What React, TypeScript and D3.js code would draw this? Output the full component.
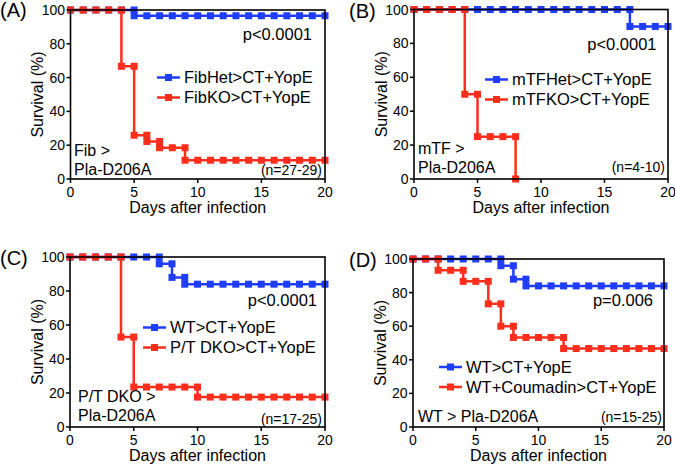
import React from "react";
import * as d3 from "d3";

// ---------- data ----------
const days = [0, 1, 2, 3, 4, 5, 6, 7, 8, 9, 10, 11, 12, 13, 14, 15, 16, 17, 18, 19, 20];
const xTicks = [0, 5, 10, 15, 20];
const yTicks = [0, 20, 40, 60, 80, 100];

// survival (%) at each day (index = day)
const fibHet = [100, 100, 100, 100, 100, 96.6, 96.6, 96.6, 96.6, 96.6, 96.6, 96.6, 96.6, 96.6, 96.6, 96.6, 96.6, 96.6, 96.6, 96.6, 96.6];
const fibKO = [100, 100, 100, 100, 66.7, 25.9, 22.2, 18.5, 18.5, 11.1, 11.1, 11.1, 11.1, 11.1, 11.1, 11.1, 11.1, 11.1, 11.1, 11.1, 11.1];
const mtfHet = [100, 100, 100, 100, 100, 100, 100, 100, 100, 100, 100, 100, 100, 100, 100, 100, 100, 90, 90, 90, 90];
const mtfKO = [100, 100, 100, 100, 50, 25, 25, 25, 0];
const wtC = [100, 100, 100, 100, 100, 100, 100, 96, 88, 84, 84, 84, 84, 84, 84, 84, 84, 84, 84, 84, 84];
const ptDKO = [100, 100, 100, 100, 52.9, 23.5, 23.5, 23.5, 23.5, 23.5, 17.6, 17.6, 17.6, 17.6, 17.6, 17.6, 17.6, 17.6, 17.6, 17.6, 17.6];
const wtD = [100, 100, 100, 100, 100, 100, 100, 96, 88, 84, 84, 84, 84, 84, 84, 84, 84, 84, 84, 84, 84];
const coumadin = [100, 100, 93.3, 93.3, 86.7, 86.7, 73.3, 60, 53.3, 53.3, 53.3, 53.3, 46.7, 46.7, 46.7, 46.7, 46.7, 46.7, 46.7, 46.7, 46.7];

const BLUE = "#1f3dff";
const RED = "#ff2e1c";
const FONT = "'Liberation Sans', Arial, Helvetica, sans-serif";

type Series = { name: string; values: number[]; color: string };
type PanelCfg = {
  tag: string;
  tagX: number;
  tagY: number;
  left: number;
  right: number;
  top: number;
  bottom: number;
  series: Series[];
  legX: number;
  legY: number;
  pText: string;
  pY: number;
  pRight: number;
  nText: string;
  nRight: number;
  nY: number;
  note: string[];
  noteX: number;
  noteY: number;
};

const panels: PanelCfg[] = [
  {
    tag: "(A)", tagX: 0, tagY: 17,
    left: 70.5, right: 325, top: 10, bottom: 179,
    series: [
      { name: "FibHet>CT+YopE", values: fibHet, color: BLUE },
      { name: "FibKO>CT+YopE", values: fibKO, color: RED },
    ],
    legX: 157, legY: 77.5,
    pText: "p<0.0001", pRight: 312, pY: 40,
    nText: "(n=27-29)", nRight: 322, nY: 174.5,
    note: ["Fib >", "Pla-D206A"], noteX: 74, noteY: 156,
  },
  {
    tag: "(B)", tagX: 349, tagY: 18,
    left: 414, right: 668, top: 9.5, bottom: 179,
    series: [
      { name: "mTFHet>CT+YopE", values: mtfHet, color: BLUE },
      { name: "mTFKO>CT+YopE", values: mtfKO, color: RED },
    ],
    legX: 485, legY: 79.5,
    pText: "p<0.0001", pRight: 656.5, pY: 49.5,
    nText: "(n=4-10)", nRight: 665, nY: 172,
    note: ["mTF >", "Pla-D206A"], noteX: 418, noteY: 154,
  },
  {
    tag: "(C)", tagX: 0, tagY: 265,
    left: 70, right: 325, top: 257, bottom: 427,
    series: [
      { name: "WT>CT+YopE", values: wtC, color: BLUE },
      { name: "P/T DKO>CT+YopE", values: ptDKO, color: RED },
    ],
    legX: 143, legY: 327.5,
    pText: "p<0.0001", pRight: 317, pY: 306,
    nText: "(n=17-25)", nRight: 322, nY: 423.5,
    note: ["P/T DKO >", "Pla-D206A"], noteX: 78, noteY: 401.5,
  },
  {
    tag: "(D)", tagX: 349, tagY: 267,
    left: 413, right: 664, top: 259, bottom: 427,
    series: [
      { name: "WT>CT+YopE", values: wtD, color: BLUE },
      { name: "WT+Coumadin>CT+YopE", values: coumadin, color: RED },
    ],
    legX: 439, legY: 367,
    pText: "p=0.006", pRight: 653, pY: 306,
    nText: "(n=15-25)", nRight: 662, nY: 421.5,
    note: ["WT > Pla-D206A"], noteX: 418, noteY: 422,
  },
];

function Panel({ cfg }: { cfg: PanelCfg }) {
  const x = d3.scaleLinear().domain([0, 20]).range([cfg.left, cfg.right]);
  const y = d3.scaleLinear().domain([0, 100]).range([cfg.bottom, cfg.top]);
  const line = d3
    .line<number>()
    .x((_, i) => x(days[i]))
    .y((d) => y(d))
    .curve(d3.curveStepAfter);
  const ms = 7;
  const legendGap = 20;

  const markers = (s: Series) => {
    const pts: [number, number][] = [];
    s.values.forEach((v, i) => {
      if (i > 0 && s.values[i - 1] !== v) pts.push([days[i], s.values[i - 1]]);
      pts.push([days[i], v]);
    });
    return pts;
  };

  return (
    <g>
      <text x={cfg.tagX} y={cfg.tagY} fontSize={20} fontFamily={FONT}>
        {cfg.tag}
      </text>
      {cfg.series.map((s) => (
        <g key={s.name}>
          <path d={line(s.values) || ""} fill="none" stroke={s.color} strokeWidth={2.5} />
          {markers(s).map(([d, v], k) => (
            <rect
              key={k}
              x={x(d) - ms / 2}
              y={y(v) - ms / 2}
              width={ms}
              height={ms}
              fill={s.color}
            />
          ))}
        </g>
      ))}
      <rect
        x={cfg.left}
        y={cfg.top}
        width={cfg.right - cfg.left}
        height={cfg.bottom - cfg.top}
        fill="none"
        stroke="#000"
        strokeWidth={1.6}
      />
      {yTicks.map((t) => (
        <g key={"y" + t}>
          <line x1={cfg.left - 4} x2={cfg.left} y1={y(t)} y2={y(t)} stroke="#000" strokeWidth={1.5} />
          <text
            x={cfg.left - 5.5}
            y={y(t) + 5}
            textAnchor="end"
            fontSize={14}
            fontFamily={FONT}
          >
            {t}
          </text>
        </g>
      ))}
      {xTicks.map((t) => (
        <g key={"x" + t}>
          <line x1={x(t)} x2={x(t)} y1={cfg.bottom} y2={cfg.bottom + 4} stroke="#000" strokeWidth={1.5} />
          <text x={x(t)} y={cfg.bottom + 17.5} textAnchor="middle" fontSize={14} fontFamily={FONT}>
            {t}
          </text>
        </g>
      ))}
      <text
        x={(cfg.left + cfg.right) / 2}
        y={cfg.bottom + 34}
        textAnchor="middle"
        fontSize={16}
        fontFamily={FONT}
      >
        Days after infection
      </text>
      <text
        transform={`translate(${cfg.left - 27.5},${(cfg.top + cfg.bottom) / 2}) rotate(-90)`}
        textAnchor="middle"
        fontSize={16}
        fontFamily={FONT}
      >
        Survival (%)
      </text>
      {cfg.series.map((s, i) => {
        const ly = cfg.legY + i * legendGap;
        return (
          <g key={"leg" + i}>
            <line x1={cfg.legX} x2={cfg.legX + 23} y1={ly} y2={ly} stroke={s.color} strokeWidth={2.5} />
            <rect x={cfg.legX + 11.5 - ms / 2} y={ly - ms / 2} width={ms} height={ms} fill={s.color} />
            <text x={cfg.legX + 27} y={ly + 5.5} fontSize={16.5} fontFamily={FONT}>
              {s.name}
            </text>
          </g>
        );
      })}
      <text x={cfg.pRight} y={cfg.pY} textAnchor="end" fontSize={16.5} fontFamily={FONT}>
        {cfg.pText}
      </text>
      <text x={cfg.nRight} y={cfg.nY} textAnchor="end" fontSize={14} fontFamily={FONT}>
        {cfg.nText}
      </text>
      {cfg.note.map((t, i) => (
        <text key={"n" + i} x={cfg.noteX} y={cfg.noteY + i * 19} fontSize={16} fontFamily={FONT}>
          {t}
        </text>
      ))}
    </g>
  );
}

export default function App() {
  return (
    <svg
      width={675}
      height={465}
      style={{ position: "absolute", left: 0, top: 0, background: "#fff" }}
    >
      <rect width={675} height={465} fill="#fff" />
      {panels.map((p) => (
        <Panel key={p.tag} cfg={p} />
      ))}
    </svg>
  );
}
